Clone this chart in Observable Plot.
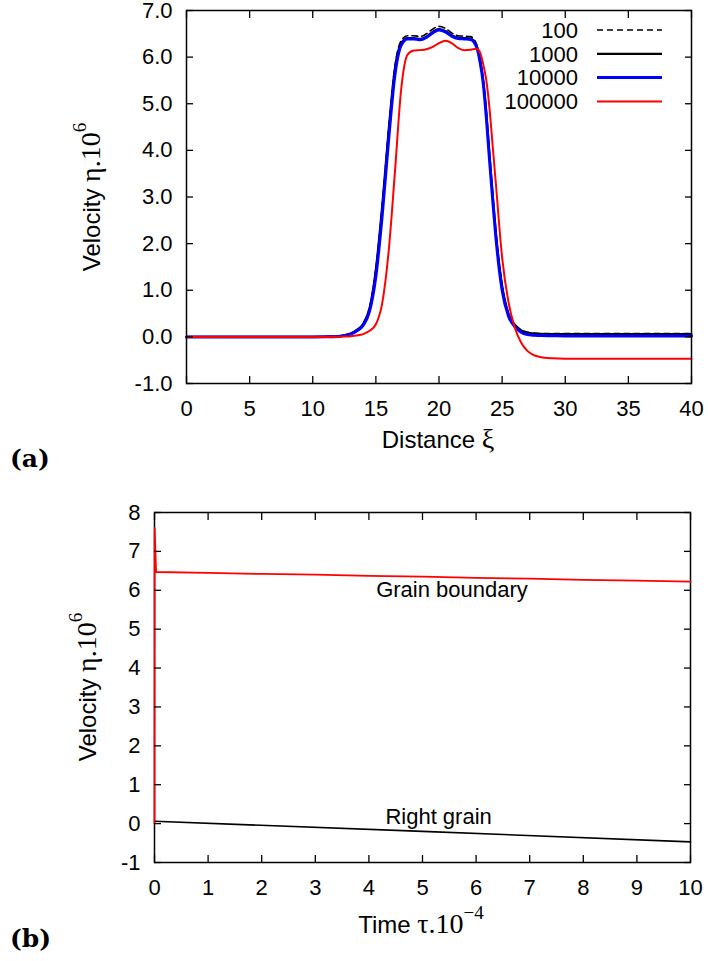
<!DOCTYPE html>
<html><head><meta charset="utf-8">
<script src="https://cdn.jsdelivr.net/npm/d3@7"></script>
<script src="https://cdn.jsdelivr.net/npm/@observablehq/plot@0.6"></script>
<style>
body{margin:0;background:#fff;}
#wrap{position:relative;width:708px;height:961px;overflow:hidden;background:#fff;}
.panel{position:absolute;left:0;}
.tag{position:absolute;font-family:"DejaVu Serif","Liberation Serif",serif;font-weight:bold;font-size:25px;color:#000;line-height:1;}
</style></head><body><div id="wrap"></div>
<script>
// ---------- Panel (a) data ----------
const xi = [0, 5, 10, 11, 12, 12.5, 13, 13.5, 14, 14.5, 15, 15.5, 16, 16.5, 17, 17.5, 18, 18.5, 19, 19.5, 20, 20.5, 21, 21.5, 22, 22.5, 23, 23.25, 23.5, 23.75, 24, 24.25, 24.5, 25, 25.5, 26, 26.5, 27, 27.5, 28, 29, 30, 35, 40];
const v100 = [0, 0, 0, 0.003, 0.012, 0.035, 0.07, 0.15, 0.28, 0.62, 1.45, 2.8, 4.4, 5.78, 6.35, 6.46, 6.46, 6.44, 6.5, 6.6, 6.66, 6.62, 6.52, 6.46, 6.45, 6.44, 6.26, 5.97, 5.5, 4.8, 3.9, 3.05, 2.25, 1.1, 0.5, 0.27, 0.15, 0.1, 0.08, 0.07, 0.07, 0.07, 0.07, 0.07];
const v1000 = [0, 0, 0, 0.003, 0.012, 0.035, 0.07, 0.15, 0.28, 0.62, 1.45, 2.8, 4.4, 5.75, 6.3, 6.41, 6.41, 6.39, 6.44, 6.54, 6.6, 6.56, 6.47, 6.42, 6.41, 6.4, 6.23, 5.95, 5.5, 4.8, 3.9, 3.05, 2.25, 1.1, 0.5, 0.26, 0.14, 0.09, 0.07, 0.065, 0.06, 0.06, 0.06, 0.06];
const v10000 = [0, 0, 0, 0.003, 0.01, 0.03, 0.06, 0.13, 0.25, 0.55, 1.3, 2.6, 4.2, 5.6, 6.25, 6.39, 6.39, 6.37, 6.42, 6.52, 6.58, 6.54, 6.45, 6.4, 6.39, 6.38, 6.2, 5.9, 5.45, 4.7, 3.8, 2.95, 2.15, 1.0, 0.45, 0.22, 0.1, 0.05, 0.035, 0.03, 0.025, 0.02, 0.02, 0.02];
const v100000 = [0, 0, 0, 0, 0.003, 0.008, 0.015, 0.03, 0.06, 0.13, 0.27, 0.72, 1.8, 3.5, 5.3, 6.05, 6.14, 6.15, 6.17, 6.22, 6.3, 6.35, 6.3, 6.2, 6.15, 6.16, 6.18, 6.1, 5.85, 5.5, 4.9, 4.1, 3.3, 1.7, 0.75, 0.2, -0.12, -0.3, -0.39, -0.43, -0.46, -0.47, -0.47, -0.47];
const seriesNames = ["100", "1000", "10000", "100000"];
const xTicksA = [0, 5, 10, 15, 20, 25, 30, 35, 40];
const yTicksA = [-1, 0, 1, 2, 3, 4, 5, 6, 7];

// ---------- Panel (b) data ----------
const tGB = [0, 0.003, 0.03, 1, 2, 3, 4, 5, 6, 7, 8, 9, 10];
const vGB = [0, 7.6, 6.47, 6.45, 6.42, 6.4, 6.37, 6.35, 6.32, 6.3, 6.27, 6.25, 6.22];
const tRG = [0, 5, 10];
const vRG = [0.06, -0.2, -0.47];
const annText = ["Grain boundary", "Right grain"];
const annT = [5.55, 5.3];
const annV = [6.0, 0.18];
const xTicksB = [0, 1, 2, 3, 4, 5, 6, 7, 8, 9, 10];
const yTicksB = [-1, 0, 1, 2, 3, 4, 5, 6, 7, 8];

// ---------- build ----------
const SANS = "'Liberation Sans', Arial, Helvetica, sans-serif";
const SERIF = "'Liberation Serif', 'Times New Roman', serif";
const wrap = document.getElementById("wrap");

const seriesValues = [v100, v1000, v10000, v100000];
const styleA = [
  {stroke: "black", strokeWidth: 1.6, strokeDasharray: "6,4"},
  {stroke: "black", strokeWidth: 2.2},
  {stroke: "#0000ff", strokeWidth: 3},
  {stroke: "#ff0000", strokeWidth: 2}
];
const rowsA = [];
seriesNames.forEach((s, k) => xi.forEach((x, i) => rowsA.push({s, x, v: seriesValues[k][i]})));

function axes(xt, yt, fx, fy) {
  return [
    Plot.axisX(xt, {anchor: "bottom", tickSize: -7, tickPadding: 24, tickFormat: fx, label: null, strokeWidth: 1.3}),
    Plot.axisX(xt, {anchor: "top", tickSize: -7, tickFormat: () => "", label: null, strokeWidth: 1.3}),
    Plot.axisY(yt, {anchor: "left", tickSize: -7, tickPadding: 21, tickFormat: fy, label: null, strokeWidth: 1.3}),
    Plot.axisY(yt, {anchor: "right", tickSize: -7, tickFormat: () => "", label: null, strokeWidth: 1.3})
  ];
}

const plotA = Plot.plot({
  width: 708, height: 480,
  marginLeft: 186, marginRight: 17, marginTop: 10, marginBottom: 97,
  x: {domain: [0, 40]},
  y: {domain: [-1, 7]},
  style: {fontFamily: SANS, fontSize: "22px", color: "black", background: "white", overflow: "visible"},
  marks: [
    ...seriesNames.map((s, k) => Plot.line(rowsA.filter(d => d.s === s), {x: "x", y: "v", curve: "monotone-x", ...styleA[k]})),
    Plot.frame({stroke: "black", strokeWidth: 1.5}),
    ...axes(xTicksA, yTicksA, d => String(d), d => d.toFixed(1))
  ]
});

const plotB = Plot.plot({
  width: 708, height: 481,
  marginLeft: 154, marginRight: 18, marginTop: 32, marginBottom: 99,
  x: {domain: [0, 10]},
  y: {domain: [-1, 8]},
  style: {fontFamily: SANS, fontSize: "22px", color: "black", background: "white", overflow: "visible"},
  marks: [
    Plot.frame({stroke: "black", strokeWidth: 1.5}),
    Plot.line(tRG.map((t, i) => ({t, v: vRG[i]})), {x: "t", y: "v", stroke: "black", strokeWidth: 1.6}),
    Plot.line(tGB.map((t, i) => ({t, v: vGB[i]})), {x: "t", y: "v", stroke: "#ff0000", strokeWidth: 1.8}),
    Plot.text(annText.map((s, i) => ({s, t: annT[i], v: annV[i]})), {x: "t", y: "v", text: "s", fontSize: 22, fill: "black"}),
    ...axes(xTicksB, yTicksB, d => String(d), d => String(d))
  ]
});

const boxA = document.createElement("div"); boxA.className = "panel"; boxA.style.top = "0px"; boxA.appendChild(plotA); wrap.appendChild(boxA);
const boxB = document.createElement("div"); boxB.className = "panel"; boxB.style.top = "480px"; boxB.appendChild(plotB); wrap.appendChild(boxB);

// legend for panel (a)
const lg = d3.select(plotA).append("g").attr("font-family", SANS).attr("font-size", 22).attr("fill", "black");
seriesNames.forEach((n, i) => {
  const y = 30 + i * 23.8;
  lg.append("text").attr("x", 578).attr("y", y).attr("dy", "0.35em").attr("text-anchor", "end").text(n);
  lg.append("line").attr("x1", 597).attr("x2", 662).attr("y1", y).attr("y2", y)
    .attr("stroke", styleA[i].stroke).attr("stroke-width", styleA[i].strokeWidth)
    .attr("stroke-dasharray", styleA[i].strokeDasharray || null);
});

// axis labels with mixed fonts
function label(svg, x, y, rot, parts) {
  const t = d3.select(svg).append("text").attr("text-anchor", "middle").attr("fill", "black")
    .attr("transform", `translate(${x},${y}) rotate(${rot})`).attr("dy", "0.35em");
  parts.forEach(p => {
    const ts = t.append("tspan").attr("font-family", p.f).attr("font-size", p.s).text(p.t);
    if (p.dy) ts.attr("dy", p.dy);
  });
}
label(plotA, 92, 197, -90, [{t: "Velocity ", f: SANS, s: 24}, {t: "η.10", f: SERIF, s: 28}, {t: "6", f: SERIF, s: 19, dy: "-0.7em"}]);
label(plotA, 438, 440, 0, [{t: "Distance ", f: SANS, s: 24}, {t: "ξ", f: SERIF, s: 28}]);
label(plotB, 88, 207, -90, [{t: "Velocity ", f: SANS, s: 24}, {t: "η.10", f: SERIF, s: 28}, {t: "6", f: SERIF, s: 19, dy: "-0.7em"}]);
label(plotB, 421, 445, 0, [{t: "Time ", f: SANS, s: 24}, {t: "τ.10", f: SERIF, s: 28}, {t: "−4", f: SERIF, s: 19, dy: "-0.7em"}]);

// panel tags
[["(a)", 446], ["(b)", 926]].forEach(([s, top]) => {
  const d = document.createElement("div"); d.className = "tag"; d.textContent = s;
  d.style.left = "10px"; d.style.top = top + "px"; wrap.appendChild(d);
});
</script>
</body></html>
